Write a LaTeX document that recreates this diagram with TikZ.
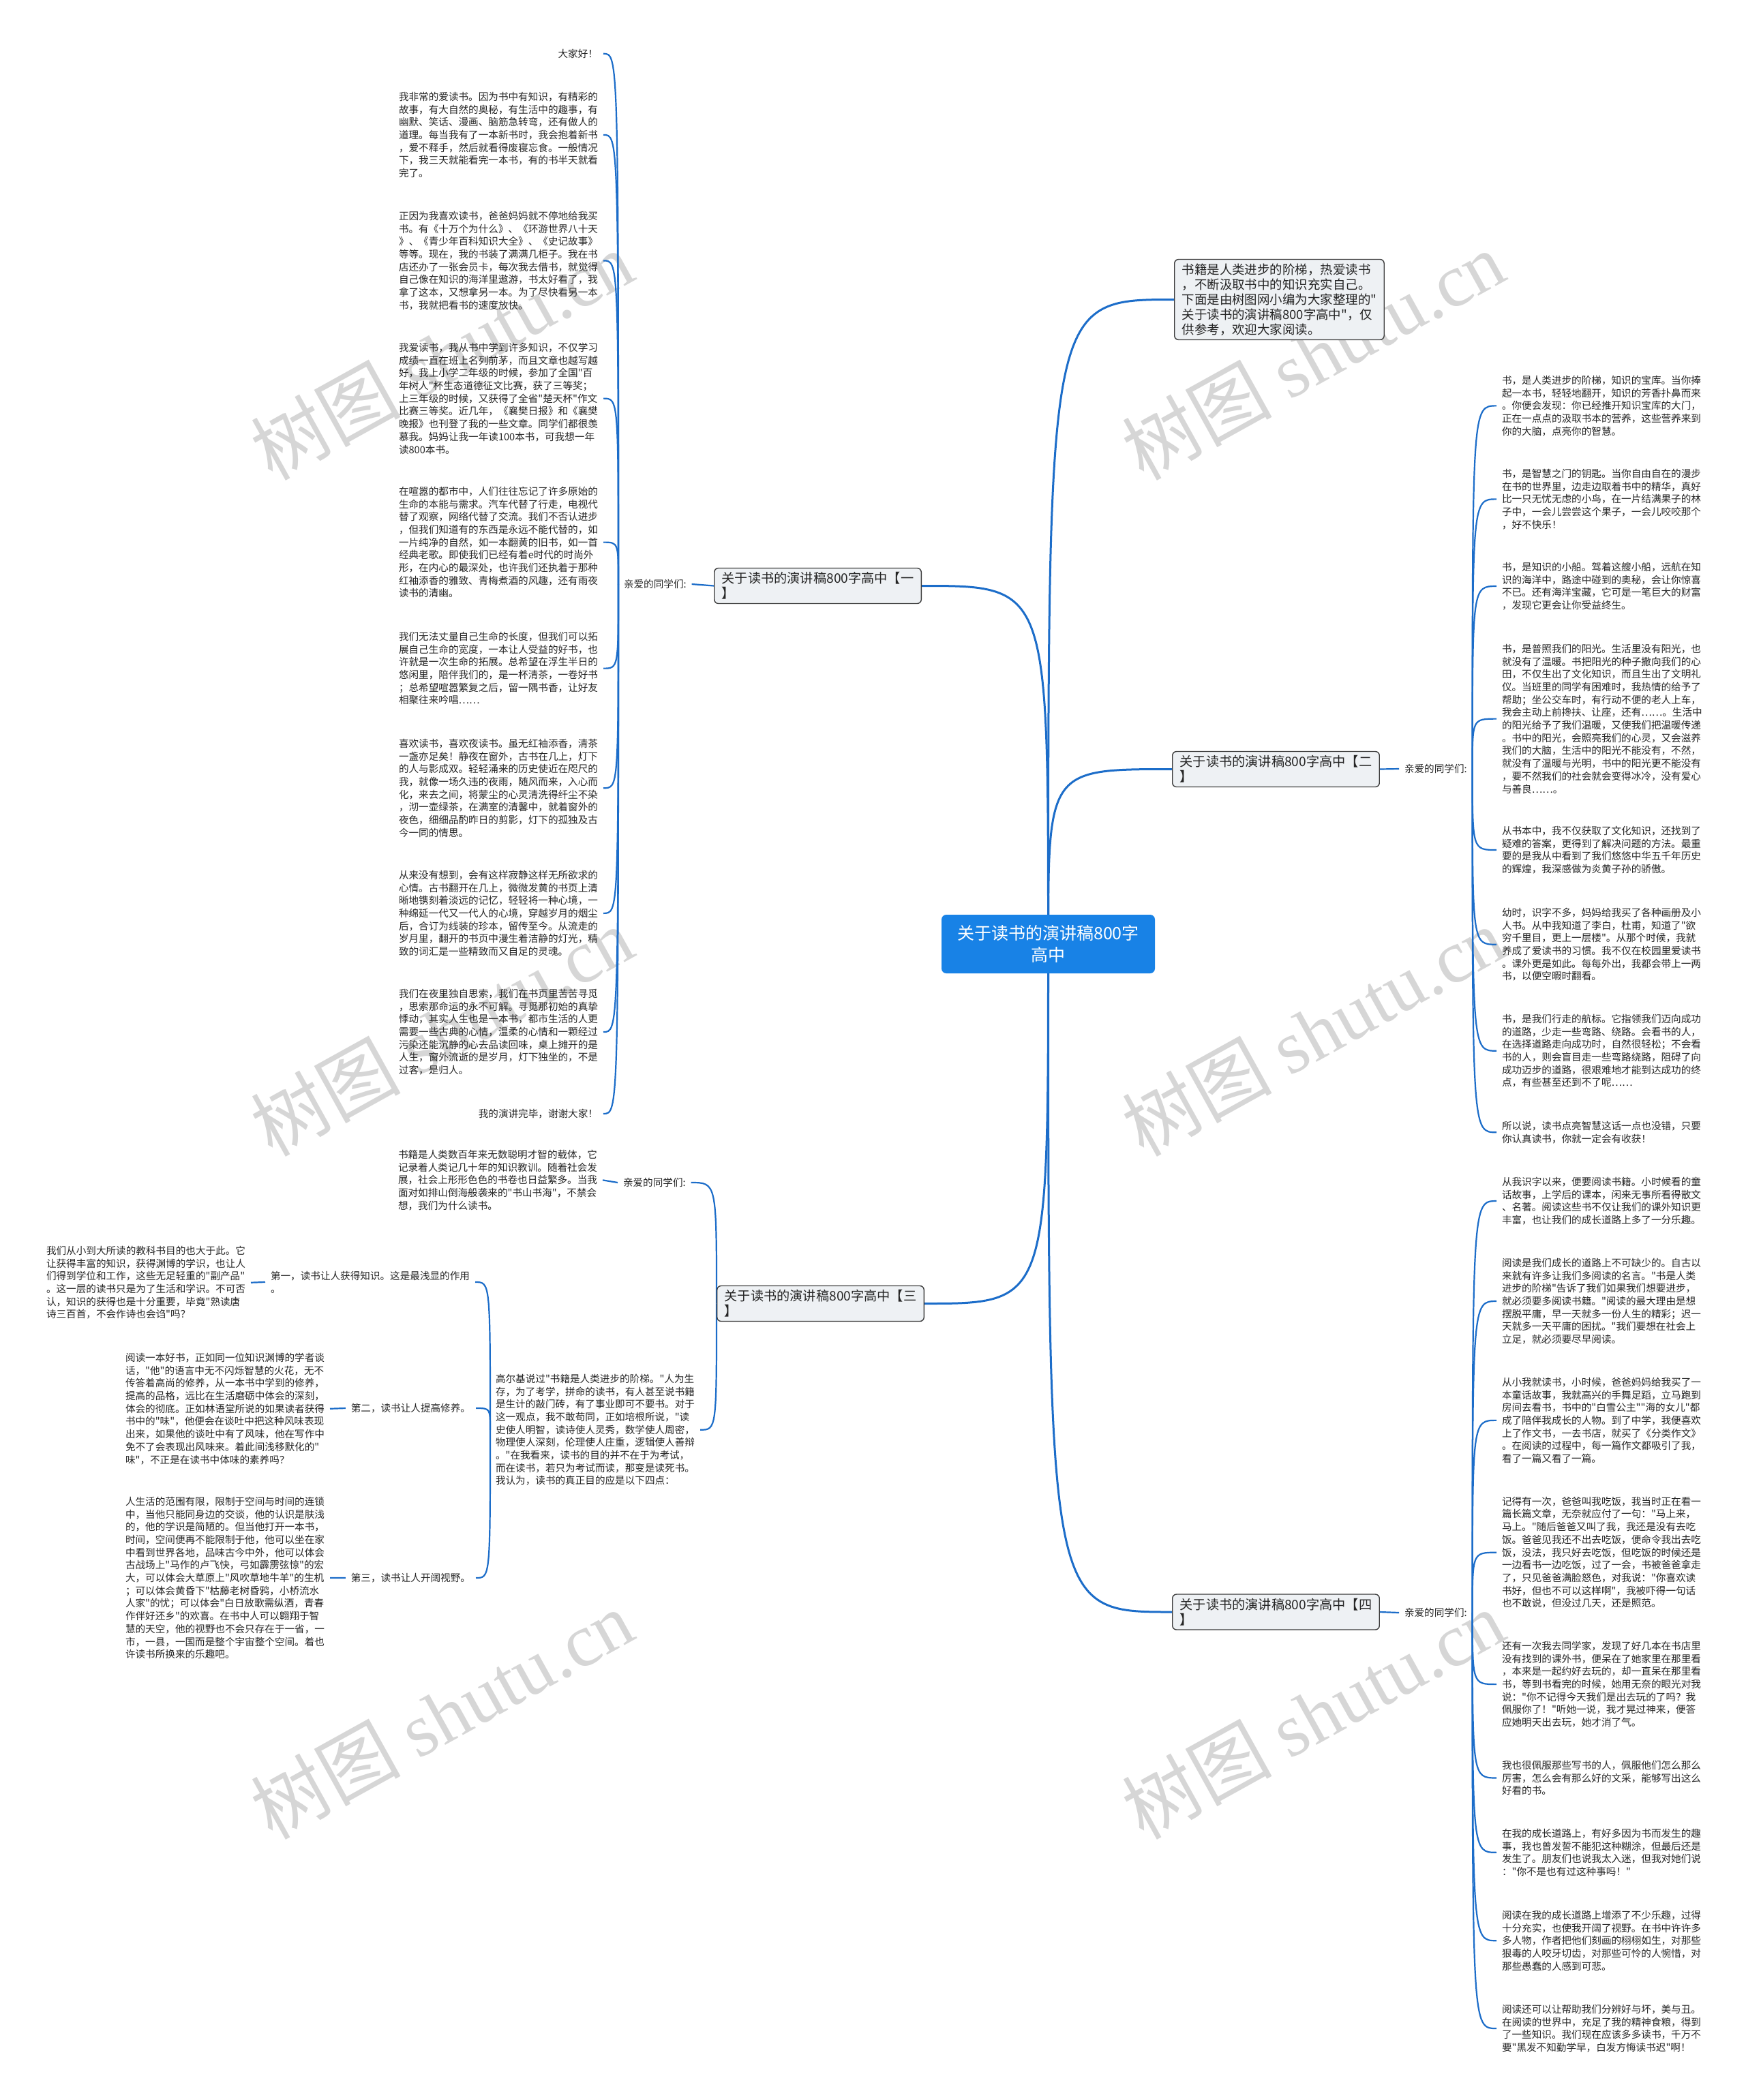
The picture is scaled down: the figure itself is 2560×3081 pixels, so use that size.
\documentclass[tikz,border=0pt]{standalone}
\usepackage{fontspec}
\newfontfamily\cjkf{Noto Sans CJK SC}
\newfontfamily\wmlatin{Liberation Serif}
\pgfdeclarelayer{background}
\pgfsetlayers{background,main}
\definecolor{linkblue}{HTML}{1C6DC9}
\definecolor{centerblue}{HTML}{1882E6}
\definecolor{boxfill}{HTML}{EEF1F4}
\definecolor{boxdraw}{HTML}{3C3C3C}
\definecolor{txt}{HTML}{262626}
\tikzset{
 link/.style={draw=linkblue, line width=2.2pt},
 mainlink/.style={draw=linkblue, line width=3pt},
 para/.style={inner sep=0pt, outer xsep=8pt, outer ysep=0pt, align=left, text=txt, font=\cjkf\fontsize{14.6}{18.7}\selectfont},
 paraL/.style={para, anchor=north east},
 paraR/.style={para, anchor=north west},
 lbl/.style={inner sep=0pt, outer xsep=8pt, text=txt, font=\cjkf\fontsize{14.6}{18.7}\selectfont},
 topic/.style={draw=boxdraw, fill=boxfill, line width=1.4pt, rounded corners=6pt, inner xsep=11pt, inner ysep=6pt, align=left, text=txt, font=\cjkf\fontsize{18.45}{22.1}\selectfont},
 branch/.style={topic, font=\cjkf\fontsize{19.2}{22.1}\selectfont},
 central/.style={fill=centerblue, rounded corners=7pt, text=white, align=center, minimum width=313pt, minimum height=86pt, font=\cjkf\fontsize{25}{32}\selectfont},
 wm/.style={text=black!16, rotate=29, font=\cjkf\fontsize{110}{110}\selectfont}
}
\newcommand\mlink[3][link]{\draw[#1] (#2) .. controls (#2 |- #3) .. (#3);}
\begin{document}
\begin{tikzpicture}[x=1pt,y=-1pt]
\begin{pgfonlayer}{background}
\fill[white] (0,0) rectangle (2560,3081);
\node[wm] (w1) at (648,521) {树图 {\wmlatin shutu.cn}};
\node[wm] (w2) at (1926,521) {树图 {\wmlatin shutu.cn}};
\node[wm] (w3) at (648,1513) {树图 {\wmlatin shutu.cn}};
\node[wm] (w4) at (1926,1513) {树图 {\wmlatin shutu.cn}};
\node[wm] (w5) at (648,2515) {树图 {\wmlatin shutu.cn}};
\node[wm] (w6) at (1926,2515) {树图 {\wmlatin shutu.cn}};
\end{pgfonlayer}
\useasboundingbox (0,0) rectangle (2560,3081);

% central and topics
\node[central] (c) at (1537.5,1385) {关于读书的演讲稿800字\\高中};
\node[topic, anchor=west] (top) at (1722,439.5) {书籍是人类进步的阶梯，热爱读书\\，不断汲取书中的知识充实自己。\\下面是由树图网小编为大家整理的"\\关于读书的演讲稿800字高中"，仅\\供参考，欢迎大家阅读。};
\node[branch, anchor=east] (b1) at (1352,859.5) {关于读书的演讲稿800字高中【一\\】};
\node[branch, anchor=west] (b2) at (1719,1128.5) {关于读书的演讲稿800字高中【二\\】};
\node[branch, anchor=east] (b3) at (1356,1912.5) {关于读书的演讲稿800字高中【三\\】};
\node[branch, anchor=west] (b4) at (1719,2365) {关于读书的演讲稿800字高中【四\\】};

\node[lbl, anchor=west] (l1) at (907,857) {亲爱的同学们:};
\node[lbl, anchor=west] (l2) at (2052,1128) {亲爱的同学们:};
\node[lbl, anchor=west] (l3) at (906,1735) {亲爱的同学们:};
\node[lbl, anchor=west] (l4) at (2052,2366) {亲爱的同学们:};

% branch 1 texts
\node[paraL] (t1a) at (885,72) {大家好！};
\node[paraL] (t1b) at (885,135) {我非常的爱读书。因为书中有知识，有精彩的\\故事，有大自然的奥秘，有生活中的趣事，有\\幽默、笑话、漫画、脑筋急转弯，还有做人的\\道理。每当我有了一本新书时，我会抱着新书\\，爱不释手，然后就看得废寝忘食。一般情况\\下，我三天就能看完一本书，有的书半天就看\\完了。};
\node[paraL] (t1c) at (885,310) {正因为我喜欢读书，爸爸妈妈就不停地给我买\\书。有《十万个为什么》、《环游世界八十天\\》、《青少年百科知识大全》、《史记故事》\\等等。现在，我的书装了满满几柜子。我在书\\店还办了一张会员卡，每次我去借书，就觉得\\自己像在知识的海洋里遨游，书太好看了，我\\拿了这本，又想拿另一本。为了尽快看另一本\\书，我就把看书的速度放快。};
\node[paraL] (t1d) at (885,503) {我爱读书，我从书中学到许多知识，不仅学习\\成绩一直在班上名列前茅，而且文章也越写越\\好，我上小学二年级的时候，参加了全国"百\\年树人"杯生态道德征文比赛，获了三等奖；\\上三年级的时候，又获得了全省"楚天杯"作文\\比赛三等奖。近几年，《襄樊日报》和《襄樊\\晚报》也刊登了我的一些文章。同学们都很羡\\慕我。妈妈让我一年读100本书，可我想一年\\读800本书。};
\node[paraL] (t1e) at (885,714) {在喧嚣的都市中，人们往往忘记了许多原始的\\生命的本能与需求。汽车代替了行走，电视代\\替了观察，网络代替了交流。我们不否认进步\\，但我们知道有的东西是永远不能代替的，如\\一片纯净的自然，如一本翻黄的旧书，如一首\\经典老歌。即使我们已经有着e时代的时尚外\\形，在内心的最深处，也许我们还执着于那种\\红袖添香的雅致、青梅煮酒的风趣，还有雨夜\\读书的清幽。};
\node[paraL] (t1f) at (885,927) {我们无法丈量自己生命的长度，但我们可以拓\\展自己生命的宽度，一本让人受益的好书，也\\许就是一次生命的拓展。总希望在浮生半日的\\悠闲里，陪伴我们的，是一杯清茶，一卷好书\\；总希望喧嚣繁复之后，留一隅书香，让好友\\相聚往来吟唱……};
\node[paraL] (t1g) at (885,1084) {喜欢读书，喜欢夜读书。虽无红袖添香，清茶\\一盏亦足矣！静夜在窗外，古书在几上，灯下\\的人与影成双。轻轻涌来的历史使近在咫尺的\\我，就像一场久违的夜雨，随风而来，入心而\\化，来去之间，将蒙尘的心灵清洗得纤尘不染\\，沏一壶绿茶，在满室的清馨中，就着窗外的\\夜色，细细品酌昨日的剪影，灯下的孤独及古\\今一同的情思。};
\node[paraL] (t1h) at (885,1277) {从来没有想到，会有这样寂静这样无所欲求的\\心情。古书翻开在几上，微微发黄的书页上清\\晰地镌刻着淡远的记忆，轻轻将一种心境，一\\种绵延一代又一代人的心境，穿越岁月的烟尘\\后，合订为线装的珍本，留传至今。从流走的\\岁月里，翻开的书页中漫生着洁静的灯光，精\\致的词汇是一些精致而又自足的灵魂。};
\node[paraL] (t1i) at (885,1451) {我们在夜里独自思索，我们在书页里苦苦寻觅\\，思索那命运的永不可解。寻觅那初始的真挚\\悸动，其实人生也是一本书，都市生活的人更\\需要一些古典的心情，温柔的心情和一颗经过\\污染还能沉静的心去品读回味，桌上摊开的是\\人生，窗外流逝的是岁月，灯下独坐的，不是\\过客，是归人。};
\node[paraL] (t1j) at (885,1627) {我的演讲完毕，谢谢大家！};

% branch 2 texts
\node[paraR] (t2a) at (2195,551) {书，是人类进步的阶梯，知识的宝库。当你捧\\起一本书，轻轻地翻开，知识的芳香扑鼻而来\\。你便会发现：你已经推开知识宝库的大门，\\正在一点点的汲取书本的营养，这些营养来到\\你的大脑，点亮你的智慧。};
\node[paraR] (t2b) at (2195,688) {书，是智慧之门的钥匙。当你自由自在的漫步\\在书的世界里，边走边取着书中的精华，真好\\比一只无忧无虑的小鸟，在一片结满果子的林\\子中，一会儿尝尝这个果子，一会儿咬咬那个\\，好不快乐！};
\node[paraR] (t2c) at (2195,825) {书，是知识的小船。驾着这艘小船，远航在知\\识的海洋中，路途中碰到的奥秘，会让你惊喜\\不已。还有海洋宝藏，它可是一笔巨大的财富\\，发现它更会让你受益终生。};
\node[paraR] (t2d) at (2195,945) {书，是普照我们的阳光。生活里没有阳光，也\\就没有了温暖。书把阳光的种子撒向我们的心\\田，不仅生出了文化知识，而且生出了文明礼\\仪。当班里的同学有困难时，我热情的给予了\\帮助；坐公交车时，有行动不便的老人上车，\\我会主动上前搀扶、让座，还有……。生活中\\的阳光给予了我们温暖，又使我们把温暖传递\\。书中的阳光，会照亮我们的心灵，又会滋养\\我们的大脑，生活中的阳光不能没有，不然，\\就没有了温暖与光明，书中的阳光更不能没有\\，要不然我们的社会就会变得冰冷，没有爱心\\与善良……。};
\node[paraR] (t2e) at (2195,1212) {从书本中，我不仅获取了文化知识，还找到了\\疑难的答案，更得到了解决问题的方法。最重\\要的是我从中看到了我们悠悠中华五千年历史\\的辉煌，我深感做为炎黄子孙的骄傲。};
\node[paraR] (t2f) at (2195,1332) {幼时，识字不多，妈妈给我买了各种画册及小\\人书。从中我知道了李白，杜甫，知道了"欲\\穷千里目，更上一层楼"。从那个时候，我就\\养成了爱读书的习惯。我不仅在校园里爱读书\\。课外更是如此。每每外出，我都会带上一两\\书，以便空暇时翻看。};
\node[paraR] (t2g) at (2195,1488) {书，是我们行走的航标。它指领我们迈向成功\\的道路，少走一些弯路、绕路。会看书的人，\\在选择道路走向成功时，自然很轻松；不会看\\书的人，则会盲目走一些弯路绕路，阻碍了向\\成功迈步的道路，很艰难地才能到达成功的终\\点，有些甚至还到不了呢……};
\node[paraR] (t2h) at (2195,1645) {所以说，读书点亮智慧这话一点也没错，只要\\你认真读书，你就一定会有收获！};

% branch 3 texts
\node[paraL] (t3a) at (884,1687) {书籍是人类数百年来无数聪明才智的载体，它\\记录着人类记几十年的知识教训。随着社会发\\展，社会上形形色色的书卷也日益繁多。当我\\面对如排山倒海般袭来的"书山书海"，不禁会\\想，我们为什么读书。};
\node[paraL] (t3g) at (1027,2016) {高尔基说过"书籍是人类进步的阶梯。"人为生\\存，为了考学，拼命的读书，有人甚至说书籍\\是生计的敲门砖，有了事业即可不要书。对于\\这一观点，我不敢苟同，正如培根所说，"读\\史使人明智，读诗使人灵秀，数学使人周密，\\物理使人深刻，伦理使人庄重，逻辑使人善辩\\。"在我看来，读书的目的并不在于为考试，\\而在读书，若只为考试而读，那变是读死书。\\我认为，读书的真正目的应是以下四点：};
\node[paraL] (s1) at (697,1865) {第一，读书让人获得知识。这是最浅显的作用\\。};
\node[lbl, anchor=east] (s2) at (698,2066) {第二，读书让人提高修养。};
\node[lbl, anchor=east] (s3) at (698,2315) {第三，读书让人开阔视野。};
\node[paraL] (u1) at (368,1828) {我们从小到大所读的教科书目的也大于此。它\\让获得丰富的知识，获得渊博的学识，也让人\\们得到学位和工作，这些无足轻重的"副产品"\\。这一层的读书只是为了生活和学识。不可否\\认，知识的获得也是十分重要，毕竟"熟读唐\\诗三百首，不会作诗也会诌"吗？};
\node[paraL] (u2) at (484,1985) {阅读一本好书，正如同一位知识渊博的学者谈\\话，"他"的语言中无不闪烁智慧的火花，无不\\传答着高尚的修养，从一本书中学到的修养，\\提高的品格，远比在生活磨砺中体会的深刻，\\体会的彻底。正如林语堂所说的如果读者获得\\书中的"味"，他便会在谈吐中把这种风味表现\\出来，如果他的谈吐中有了风味，他在写作中\\免不了会表现出风味来。着此间浅移默化的"\\味"，不正是在读书中体味的素养吗？};
\node[paraL] (u3) at (484,2196) {人生活的范围有限，限制于空间与时间的连锁\\中，当他只能同身边的交谈，他的认识是肤浅\\的，他的学识是简陋的。但当他打开一本书，\\时间，空间便再不能限制于他，他可以坐在家\\中看到世界各地，品味古今中外，他可以体会\\古战场上"马作的卢飞快，弓如霹雳弦惊"的宏\\大，可以体会大草原上"风吹草地牛羊"的生机\\；可以体会黄昏下"枯藤老树昏鸦，小桥流水\\人家"的忧；可以体会"白日放歌需纵酒，青春\\作伴好还乡"的欢喜。在书中人可以翱翔于智\\慧的天空，他的视野也不会只存在于一省，一\\市，一县，一国而是整个宇宙整个空间。着也\\许读书所换来的乐趣吧。};

% branch 4 texts
\node[paraR] (t4a) at (2195,1727) {从我识字以来，便要阅读书籍。小时候看的童\\话故事，上学后的课本，闲来无事所看得散文\\、名著。阅读这些书不仅让我们的课外知识更\\丰富，也让我们的成长道路上多了一分乐趣。};
\node[paraR] (t4b) at (2195,1846) {阅读是我们成长的道路上不可缺少的。自古以\\来就有许多让我们多阅读的名言。"书是人类\\进步的阶梯"告诉了我们如果我们想要进步，\\就必须要多阅读书籍。"阅读的最大理由是想\\摆脱平庸，早一天就多一份人生的精彩；迟一\\天就多一天平庸的困扰。"我们要想在社会上\\立足，就必须要尽早阅读。};
\node[paraR] (t4c) at (2195,2021) {从小我就读书，小时候，爸爸妈妈给我买了一\\本童话故事，我就高兴的手舞足蹈，立马跑到\\房间去看书，书中的"白雪公主""海的女儿"都\\成了陪伴我成长的人物。到了中学，我便喜欢\\上了作文书，一去书店，就买了《分类作文》\\。在阅读的过程中，每一篇作文都吸引了我，\\看了一篇又看了一篇。};
\node[paraR] (t4d) at (2195,2196) {记得有一次，爸爸叫我吃饭，我当时正在看一\\篇长篇文章，无奈就应付了一句："马上来，\\马上。"随后爸爸又叫了我，我还是没有去吃\\饭。爸爸见我还不出去吃饭，便命令我出去吃\\饭，没法，我只好去吃饭，但吃饭的时候还是\\一边看书一边吃饭，过了一会，书被爸爸拿走\\了，只见爸爸满脸怒色，对我说："你喜欢读\\书好，但也不可以这样啊"，我被吓得一句话\\也不敢说，但没过几天，还是照范。};
\node[paraR] (t4e) at (2195,2408) {还有一次我去同学家，发现了好几本在书店里\\没有找到的课外书，便呆在了她家里在那里看\\，本来是一起约好去玩的，却一直呆在那里看\\书，等到书看完的时候，她用无奈的眼光对我\\说："你不记得今天我们是出去玩的了吗？我\\佩服你了！"听她一说，我才晃过神来，便答\\应她明天出去玩，她才消了气。};
\node[paraR] (t4f) at (2195,2583) {我也很佩服那些写书的人，佩服他们怎么那么\\厉害，怎么会有那么好的文采，能够写出这么\\好看的书。};
\node[paraR] (t4g) at (2195,2683) {在我的成长道路上，有好多因为书而发生的趣\\事，我也曾发誓不能犯这种糊涂，但最后还是\\发生了。朋友们也说我太入迷，但我对她们说\\："你不是也有过这种事吗！"};
\node[paraR] (t4h) at (2195,2803) {阅读在我的成长道路上增添了不少乐趣，过得\\十分充实，也使我开阔了视野。在书中许许多\\多人物，作者把他们刻画的栩栩如生，对那些\\狠毒的人咬牙切齿，对那些可怜的人惋惜，对\\那些愚蠢的人感到可悲。};
\node[paraR] (t4i) at (2195,2941) {阅读还可以让帮助我们分辨好与坏，美与丑。\\在阅读的世界中，充足了我的精神食粮，得到\\了一些知识。我们现在应该多多读书，千万不\\要"黑发不知勤学早，白发方悔读书迟"啊！};

% connectors
\begin{pgfonlayer}{background}
\mlink[mainlink]{c.center}{top.west}
\mlink[mainlink]{c.center}{b1.east}
\mlink[mainlink]{c.center}{b2.west}
\mlink[mainlink]{c.center}{b3.east}
\mlink[mainlink]{c.center}{b4.west}
\draw[link] (b1.west) -- (l1.east);
\draw[link] (b2.east) -- (l2.west);
\draw[link] (b4.east) -- (l4.west);
\foreach \q in {t1a,t1b,t1c,t1d,t1e,t1f,t1g,t1h,t1i,t1j} {\mlink{l1.west}{\q.east}}
\foreach \q in {t2a,t2b,t2c,t2d,t2e,t2f,t2g,t2h} {\mlink{l2.east}{\q.west}}
\foreach \q in {t4a,t4b,t4c,t4d,t4e,t4f,t4g,t4h,t4i} {\mlink{l4.east}{\q.west}}
\mlink{b3.west}{l3.east}
\mlink{b3.west}{t3g.east}
\draw[link] (l3.west) -- (t3a.east);
\mlink{t3g.west}{s1.east}
\mlink{t3g.west}{s2.east}
\mlink{t3g.west}{s3.east}
\draw[link] (s1.west) -- (u1.east);
\draw[link] (s2.west) -- (u2.east);
\draw[link] (s3.west) -- (u3.east);
\end{pgfonlayer}
\end{tikzpicture}
\end{document}
